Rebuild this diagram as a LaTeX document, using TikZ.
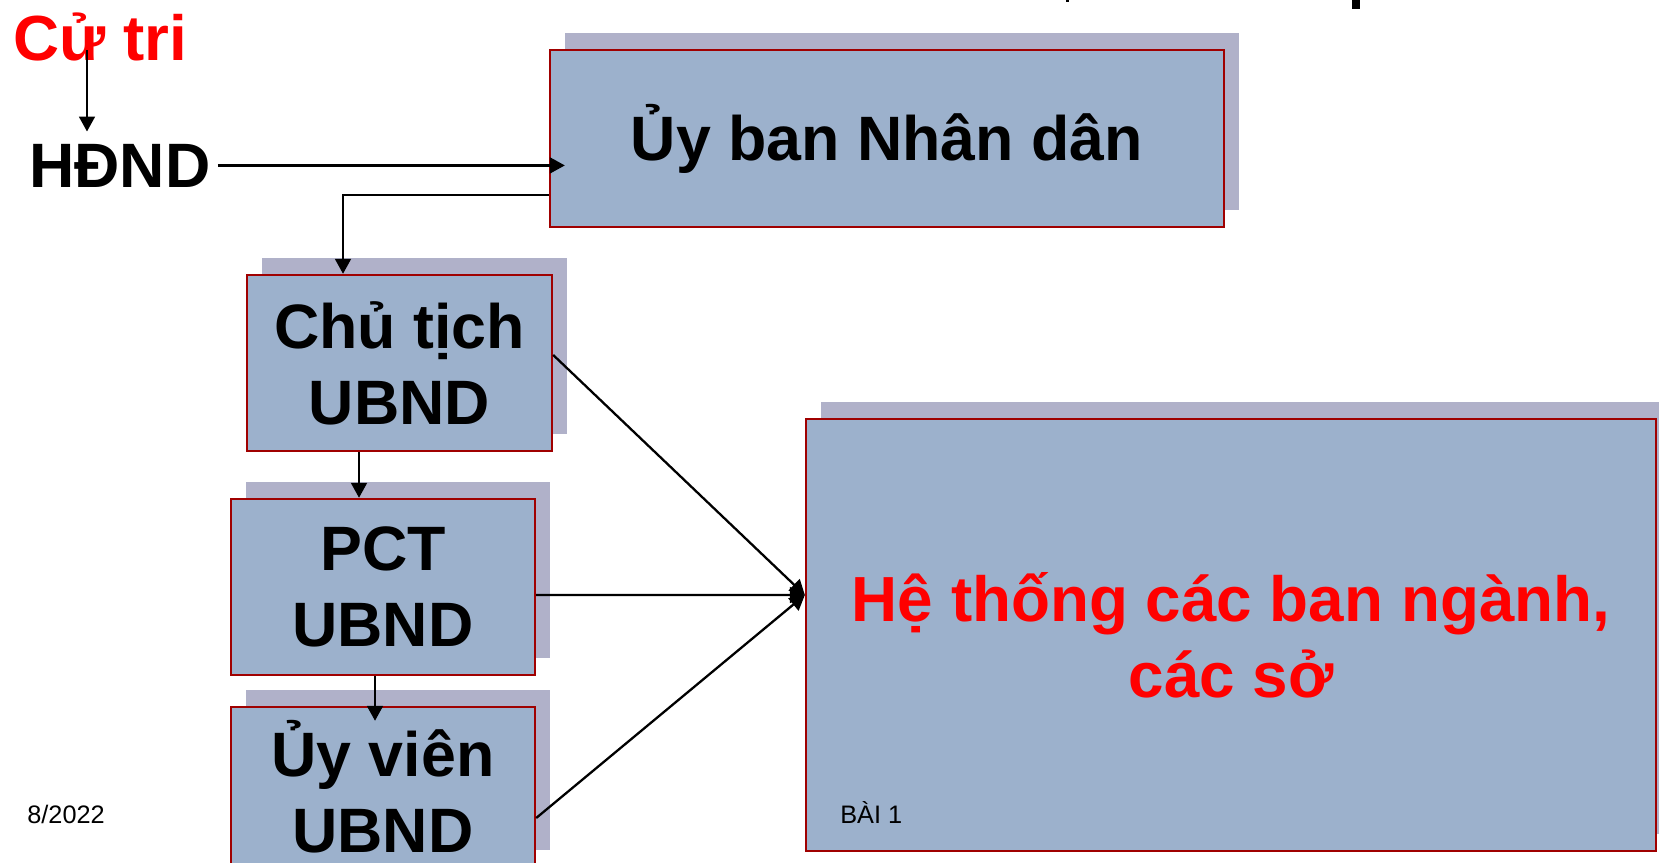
\documentclass[tikz,border=0pt]{standalone}
\usepackage{fontspec}
\setmainfont{Liberation Sans}
\usetikzlibrary{arrows.meta,shadows,calc}
\definecolor{boxfill}{RGB}{156,177,204}
\definecolor{shadowc}{RGB}{176,177,201}
\definecolor{boxred}{RGB}{160,0,0}
\definecolor{txtred}{RGB}{255,0,0}
\begin{document}
\begin{tikzpicture}[x=0.02cm,y=-0.02cm,
  bigtext/.style={font=\fontsize{35.7}{43.1}\selectfont\bfseries},
  box/.style={draw=boxred,line width=1.4pt,fill=boxfill,inner sep=0pt,align=center,bigtext,
    drop shadow={shadow xshift=0.3cm,shadow yshift=0.34cm,fill=shadowc,opacity=1}},
  arr/.style={line width=1.3pt,-{Triangle[length=8.5pt,width=9pt]}},
  smalltext/.style={font=\fontsize{14.4}{17}\selectfont,inner sep=0pt}]
\useasboundingbox (0,0) rectangle (1659,862);
\clip (0,0) rectangle (1659,862);

% fragments of a cut-off title at the top edge
\fill (1352,0) rectangle (1360,9);
\fill (1066,0) rectangle (1069,2);

\node[box,minimum width=13.48cm,minimum height=3.54cm] (ubnd) at (887,138.5) {Ủy ban Nhân dân};
\node[box,minimum width=6.1cm,minimum height=3.52cm] (ct) at (399.5,363) {Chủ tịch\\UBND};
\node[box,minimum width=6.08cm,minimum height=3.52cm] (pct) at (383,587) {PCT\\UBND};
\node[box,minimum width=6.08cm,minimum height=3.2cm] (uv) at (383,787) {Ủy viên\\UBND};
\node[box,minimum width=17cm,minimum height=8.64cm,text=txtred,font=\fontsize{36.3}{43.1}\selectfont\bfseries] (hts) at (1231,635) {Hệ thống các ban ngành,\\các sở};

\node[anchor=base west,inner sep=0pt,text=txtred,font=\fontsize{36.3}{43}\selectfont\bfseries] (cutri) at (13,60) {Cử tri};
\node[anchor=base west,inner xsep=0pt,inner ysep=0.24cm,bigtext] (hdnd) at (29,187) {HĐND};
\node[smalltext,anchor=base west] (date) at (27,823) {8/2022};
\node[smalltext,anchor=base west] (bai) at (840,823) {BÀI 1};

% connectors
\coordinate (c1) at (87,50);
\draw[arr] (c1) -- (c1 |- hdnd.north);
\coordinate (uin) at ([xshift=0.32cm]ubnd.west);
\draw[arr] ([xshift=0.14cm]hdnd.east) -- (uin |- hdnd.east);
\draw[arr] ([yshift=-1.13cm]ubnd.west) -| ([xshift=-1.13cm]ct.north);
\coordinate (ctout) at ([xshift=-0.81cm]ct.south);
\draw[arr] (ctout) -- (ctout |- pct.north);
\coordinate (uvin) at ([xshift=-0.16cm,yshift=-0.3cm]uv.north);
\draw[arr] (pct.south -| uvin) -- (uvin);
\coordinate (hin) at ([yshift=0.8cm]hts.west);
\draw[arr] ([yshift=0.16cm]ct.east) -- (hin);
\draw[arr] ([yshift=-0.16cm]pct.east) -- (hin);
\draw[arr] ([yshift=-0.62cm]uv.east) -- (hin);
\end{tikzpicture}
\end{document}
